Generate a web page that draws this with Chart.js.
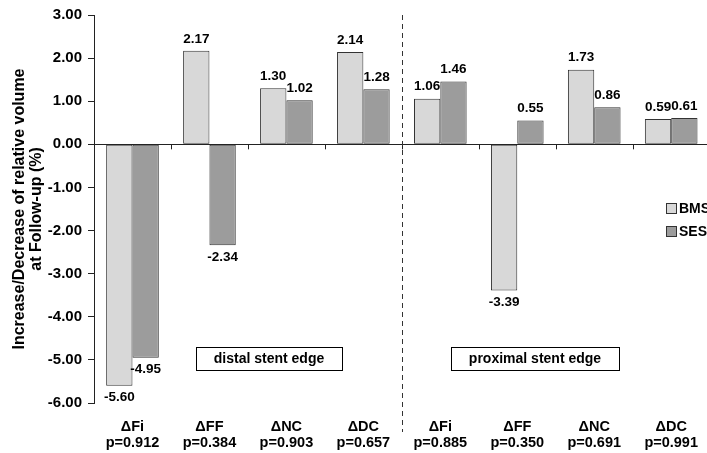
<!DOCTYPE html>
<html>
<head>
<meta charset="utf-8">
<script src="https://cdn.jsdelivr.net/npm/chart.js@4.4.0/dist/chart.umd.min.js"></script>
<style>
    html, body { margin: 0; padding: 0; background: #fff; overflow: hidden; }
    #wrap { width: 714px; height: 453px; }
</style>
</head>
<body>
<div id="wrap"><canvas id="edgeChart" width="714" height="453"></canvas></div>
<script>
// 数据
const categories = ['ΔFi', 'ΔFF', 'ΔNC', 'ΔDC', 'ΔFi', 'ΔFF', 'ΔNC', 'ΔDC'];
const pValues = ['p=0.912', 'p=0.384', 'p=0.903', 'p=0.657', 'p=0.885', 'p=0.350', 'p=0.691', 'p=0.991'];
const bmsValues = [-5.60, 2.17, 1.30, 2.14, 1.06, -3.39, 1.73, 0.59];
const sesValues = [-4.95, -2.34, 1.02, 1.28, 1.46, 0.55, 0.86, 0.61];
const yTicks = [-6, -5, -4, -3, -2, -1, 0, 1, 2, 3];
const regionLabels = ['distal stent edge', 'proximal stent edge'];

const FONT = '"Liberation Sans", Arial, sans-serif';

// 柱顶数值 + 零线刻度 + 分隔虚线 + 区域框 + 图例
const overlayPlugin = {
    id: 'overlay',
    afterDatasetsDraw(chart) {
        const ctx = chart.ctx;
        const x = chart.scales.x;
        const y = chart.scales.y;
        const area = chart.chartArea;
        const y0 = y.getPixelForValue(0);

        ctx.save();
        // 零线上的分类刻度
        ctx.strokeStyle = '#222';
        ctx.lineWidth = 1;
        for (let i = 1; i < categories.length; i++) {
            const bx = (x.getPixelForValue(i - 1) + x.getPixelForValue(i)) / 2;
            ctx.beginPath();
            ctx.moveTo(Math.round(bx) + 0.5, y0);
            ctx.lineTo(Math.round(bx) + 0.5, y0 + 5);
            ctx.stroke();
        }

        // 分隔虚线
        const mid = (x.getPixelForValue(3) + x.getPixelForValue(4)) / 2;
        ctx.setLineDash([5, 4]);
        ctx.strokeStyle = '#333';
        ctx.beginPath();
        ctx.moveTo(Math.round(mid) + 0.5, area.top);
        ctx.lineTo(Math.round(mid) + 0.5, area.bottom + 29);
        ctx.stroke();
        ctx.setLineDash([]);

        // 数值标签
        ctx.fillStyle = '#000';
        ctx.font = 'bold 13.5px ' + FONT;
        ctx.textAlign = 'center';
        ctx.textBaseline = 'middle';
        chart.data.datasets.forEach((ds, di) => {
            chart.getDatasetMeta(di).data.forEach((bar, i) => {
                const v = ds.data[i];
                const ty = v >= 0 ? bar.y - 12 : bar.y + 12;
                ctx.fillText(v.toFixed(2), bar.x, ty);
            });
        });

        // 区域说明框
        const boxes = [
            { text: regionLabels[0], x: 196, w: 146 },
            { text: regionLabels[1], x: 451, w: 168 }
        ];
        ctx.font = 'bold 14px ' + FONT;
        boxes.forEach(b => {
            ctx.strokeStyle = '#000';
            ctx.strokeRect(b.x + 0.5, 347.5, b.w, 23);
            ctx.fillText(b.text, b.x + b.w / 2, 359);
        });

        // 图例
        ctx.textAlign = 'left';
        chart.data.datasets.forEach((ds, di) => {
            const ly = 209 + di * 23;
            ctx.fillStyle = ds.backgroundColor;
            ctx.fillRect(666.5, ly - 5.5, 10, 10);
            ctx.strokeStyle = '#333';
            ctx.strokeRect(666.5, ly - 5.5, 10, 10);
            ctx.fillStyle = '#000';
            ctx.fillText(ds.label, 679, ly);
        });
        ctx.restore();
    }
};

function initEdgeChart() {
    const ctx = document.getElementById('edgeChart').getContext('2d');

    new Chart(ctx, {
        type: 'bar',
        data: {
            labels: categories.map((c, i) => [c, pValues[i]]),
            datasets: [
                {
                    label: 'BMS',
                    data: bmsValues,
                    backgroundColor: '#d8d8d8',
                    borderColor: '#333',
                    borderWidth: 1,
                    borderSkipped: false
                },
                {
                    label: 'SES',
                    data: sesValues,
                    backgroundColor: '#9c9c9c',
                    borderColor: '#333',
                    borderWidth: 1,
                    borderSkipped: false
                }
            ]
        },
        options: {
            responsive: false,
            animation: false,
            devicePixelRatio: 1,
            layout: { padding: { top: 13, right: 0, left: 0, bottom: 0 } },
            datasets: {
                bar: { categoryPercentage: 0.684, barPercentage: 1.0 }
            },
            plugins: {
                legend: { display: false },
                tooltip: { enabled: false }
            },
            scales: {
                x: {
                    grid: { display: false, drawTicks: false },
                    border: { display: false },
                    ticks: {
                        color: '#000',
                        padding: 16,
                        maxRotation: 0,
                        autoSkip: false,
                        font: { family: FONT, size: 14.5, weight: 'bold', lineHeight: 1.1 }
                    },
                    afterFit(scale) { scale.height = 50; }
                },
                y: {
                    min: -6,
                    max: 3,
                    afterBuildTicks(scale) {
                        scale.ticks = yTicks.map(v => ({ value: v }));
                    },
                    grid: {
                        color: c => (c.tick && c.tick.value === 0 ? '#222' : 'transparent'),
                        tickColor: '#222',
                        tickLength: 6,
                        drawOnChartArea: true
                    },
                    border: { display: true, color: '#222', width: 1 },
                    ticks: {
                        color: '#000',
                        padding: 6,
                        callback: v => Number(v).toFixed(2),
                        font: { family: FONT, size: 15, weight: 'bold' }
                    },
                    title: {
                        display: true,
                        text: ['Increase/Decrease of relative volume', 'at Follow-up (%)'],
                        color: '#000',
                        padding: { top: 11, bottom: 0 },
                        font: { family: FONT, size: 16, weight: 'bold', lineHeight: 1.07 }
                    },
                    afterFit(scale) { scale.width = 94; }
                }
            }
        },
        plugins: [overlayPlugin]
    });
}

document.addEventListener('DOMContentLoaded', () => {
    initEdgeChart();
});
</script>
</body>
</html>
